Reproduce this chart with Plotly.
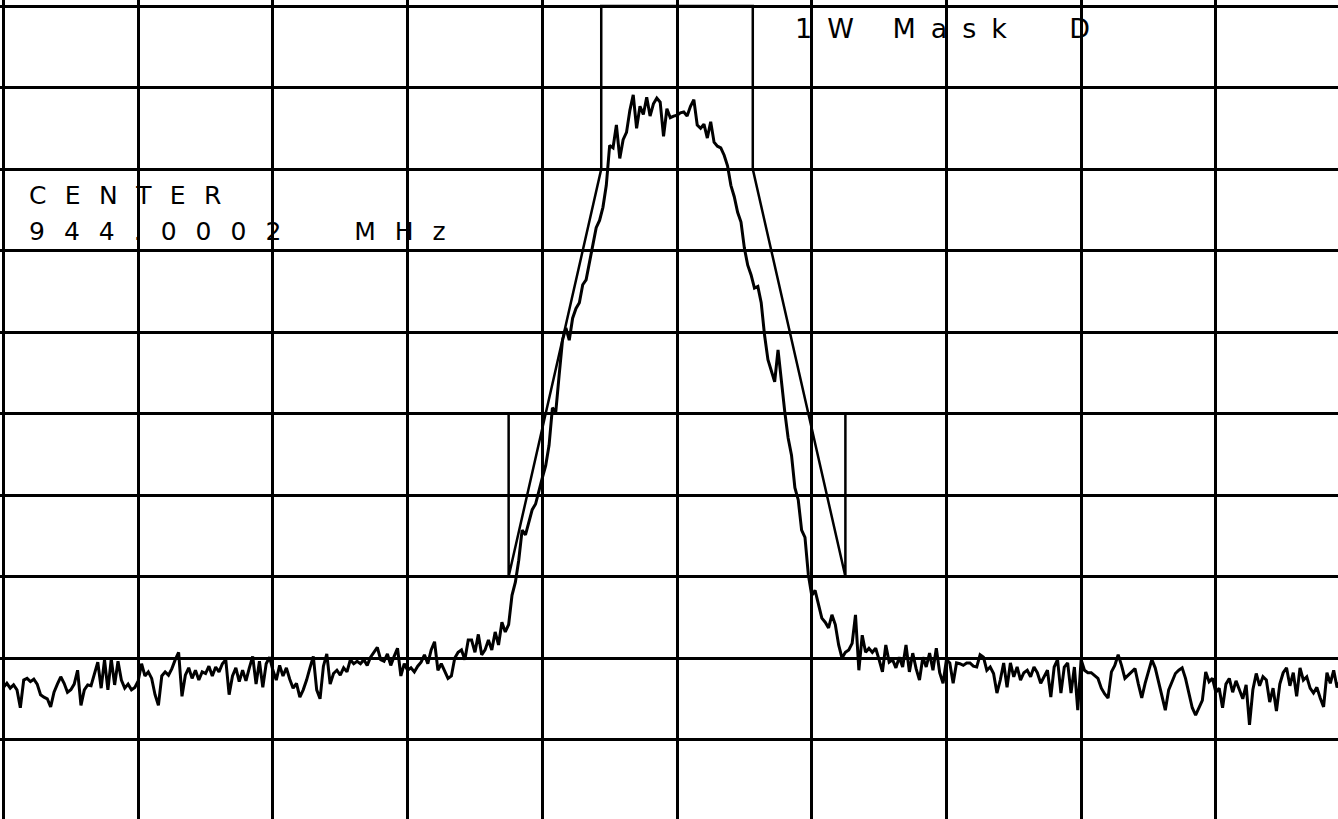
import numpy as np
import plotly.graph_objects as go

# Spectrum analyzer display: 10 kHz/div, 10 dB/div, reference level 0 dB at top
center_mhz = 944.0002
span_khz = 100.0

# Emission mask D (1 W): offsets in kHz, limit in dB relative to reference
mask_khz = [-50.0, -12.5, -12.5, -5.625, -5.625, 5.625, 5.625, 12.5, 12.5, 50.0]
mask_db = [-50.0, -50.0, -70.0, -20.0, 0.0, 0.0, -20.0, -70.0, -50.0, -50.0]

# Measured trace, 401 sweep points across the span
level_db = [
    -83.6, -83.1, -83.7, -83.3, -83.9, -86.1, -82.7, -82.5, -82.9, -82.6,
    -83.2, -84.5, -84.8, -85.0, -86.0, -84.2, -83.2, -82.3, -83.1, -84.2,
    -83.9, -83.2, -81.5, -85.8, -83.9, -83.3, -83.4, -82.1, -80.5, -83.7,
    -80.2, -83.9, -80.1, -83.3, -80.4, -82.7, -83.7, -83.2, -83.9, -83.6,
    -82.8, -80.7, -82.2, -81.7, -82.5, -84.5, -85.8, -82.2, -81.7, -82.1,
    -81.3, -80.2, -79.3, -84.7, -82.1, -81.2, -82.5, -81.5, -82.7, -81.7,
    -81.9, -81.0, -82.2, -81.1, -81.7, -80.7, -80.2, -84.5, -82.2, -81.2,
    -82.9, -81.5, -82.8, -81.2, -79.8, -83.2, -80.4, -83.6, -80.7, -79.9,
    -81.5, -82.7, -80.9, -82.2, -81.2, -82.6, -83.7, -83.1, -84.8, -83.9,
    -82.7, -81.2, -79.8, -83.9, -85.0, -81.0, -79.5, -83.2, -81.9, -81.5,
    -82.1, -81.2, -81.7, -80.2, -80.7, -80.4, -80.7, -80.2, -80.9, -79.9,
    -79.3, -78.7, -80.2, -80.4, -79.5, -80.9, -79.8, -78.8, -82.2, -80.7,
    -81.5, -81.2, -81.7, -81.0, -80.5, -79.6, -80.7, -79.0, -78.0, -81.5,
    -80.7, -81.5, -82.5, -82.2, -80.0, -79.3, -79.0, -80.2, -77.8, -77.8,
    -79.3, -77.1, -79.6, -79.0, -77.8, -79.0, -76.8, -78.4, -75.6, -76.8,
    -75.9, -72.3, -70.7, -68.0, -64.3, -64.9, -63.3, -61.8, -61.1, -59.4,
    -57.9, -56.4, -53.9, -49.3, -49.8, -45.3, -41.0, -39.5, -41.0, -38.3,
    -37.1, -36.4, -34.2, -33.6, -31.4, -29.3, -27.2, -26.3, -24.7, -22.0,
    -17.1, -17.4, -14.6, -18.7, -16.4, -15.5, -12.8, -10.9, -15.0, -12.3,
    -13.3, -11.2, -13.5, -12.0, -11.3, -11.8, -16.0, -12.6, -13.7, -13.5,
    -13.4, -13.1, -13.0, -13.5, -12.3, -11.5, -14.6, -15.0, -14.5, -16.2,
    -14.2, -16.7, -17.2, -17.4, -18.3, -19.6, -22.0, -23.4, -25.3, -26.5,
    -29.7, -31.8, -33.0, -34.6, -34.4, -36.4, -40.4, -43.4, -44.7, -46.1,
    -42.2, -46.3, -49.8, -53.0, -55.1, -59.1, -60.6, -64.3, -65.2, -69.8,
    -72.3, -71.7, -73.5, -75.1, -75.6, -76.3, -74.7, -75.9, -78.4, -80.0,
    -79.3, -79.0, -78.2, -74.7, -81.5, -77.2, -79.3, -78.8, -79.3, -78.8,
    -80.2, -81.7, -78.4, -80.5, -80.2, -81.2, -79.9, -81.1, -78.4, -81.7,
    -79.4, -81.3, -82.7, -79.9, -81.1, -79.4, -81.5, -78.8, -81.8, -83.1,
    -80.2, -80.6, -83.1, -80.6, -80.7, -80.9, -80.6, -80.6, -81.0, -81.1,
    -79.6, -79.9, -81.5, -81.1, -81.9, -84.3, -82.7, -80.6, -83.6, -80.6,
    -82.3, -81.1, -82.7, -81.8, -81.5, -82.3, -81.1, -81.8, -83.1, -82.3,
    -81.5, -84.8, -81.1, -80.2, -84.3, -81.1, -80.6, -84.3, -81.1, -86.4,
    -80.2, -81.5, -81.8, -81.8, -82.2, -82.5, -83.7, -84.4, -84.9, -81.7,
    -80.9, -79.6, -80.9, -82.5, -82.1, -81.7, -81.3, -83.2, -84.9, -83.1,
    -81.7, -80.2, -81.2, -82.9, -84.5, -86.4, -83.9, -82.8, -81.9, -81.5,
    -81.2, -82.5, -84.4, -86.1, -87.0, -86.1, -85.2, -81.7, -82.9, -82.5,
    -84.2, -83.7, -86.1, -83.2, -82.5, -84.2, -82.8, -83.9, -85.0, -83.3,
    -88.2, -83.9, -81.9, -83.4, -82.3, -82.7, -85.4, -83.7, -86.5, -83.2,
    -81.8, -81.2, -83.4, -81.8, -84.7, -81.2, -82.7, -82.3, -83.7, -84.3,
    -83.6, -84.9, -86.0, -81.8, -83.1, -81.5, -83.6, -82.7, -82.2, -83.2,
    -82.6,
]
freq_khz = np.linspace(-span_khz / 2, span_khz / 2, len(level_db))

center_label = "CENTER"
freq_label = f"{center_mhz:.4f}\u00a0 MHz"
mask_label = "1W Mask\u00a0 D"

fig = go.Figure()
fig.add_trace(go.Scatter(
    x=mask_khz, y=mask_db, mode="lines",
    line=dict(color="black", width=2.5), hoverinfo="skip",
))
fig.add_trace(go.Scatter(
    x=freq_khz, y=level_db, mode="lines",
    line=dict(color="black", width=3), hoverinfo="skip",
))

axis_common = dict(
    showgrid=True, gridcolor="black", gridwidth=3,
    zeroline=False, showticklabels=False, ticks="", showline=False,
    tick0=0, dtick=10, fixedrange=True,
)
fig.update_xaxes(range=[-50.26, 49.07], **axis_common)
fig.update_yaxes(range=[-99.75, 0.74], **axis_common)

text_font = dict(family="DejaVu Sans", size=25, color="black")


def spaced(text, gap):
    return f"<span style='letter-spacing:{gap}px'>{text}</span>"


fig.update_layout(
    width=1338, height=819,
    margin=dict(l=0, r=0, t=0, b=0),
    paper_bgcolor="white", plot_bgcolor="white",
    showlegend=False,
    annotations=[
        dict(text=spaced(center_label, 18.4), x=0.0202, y=0.7607,
             xref="paper", yref="paper", xanchor="left", yanchor="middle",
             showarrow=False, font=text_font),
        dict(text=spaced(freq_label, 19), x=0.0202, y=0.7179,
             xref="paper", yref="paper", xanchor="left", yanchor="middle",
             showarrow=False, font=text_font),
        dict(text=spaced(mask_label, 15), x=0.5927, y=0.9658,
             xref="paper", yref="paper", xanchor="left", yanchor="middle",
             showarrow=False, font=dict(family="DejaVu Sans", size=27, color="black")),
    ],
)

fig.write_html("out.html")
